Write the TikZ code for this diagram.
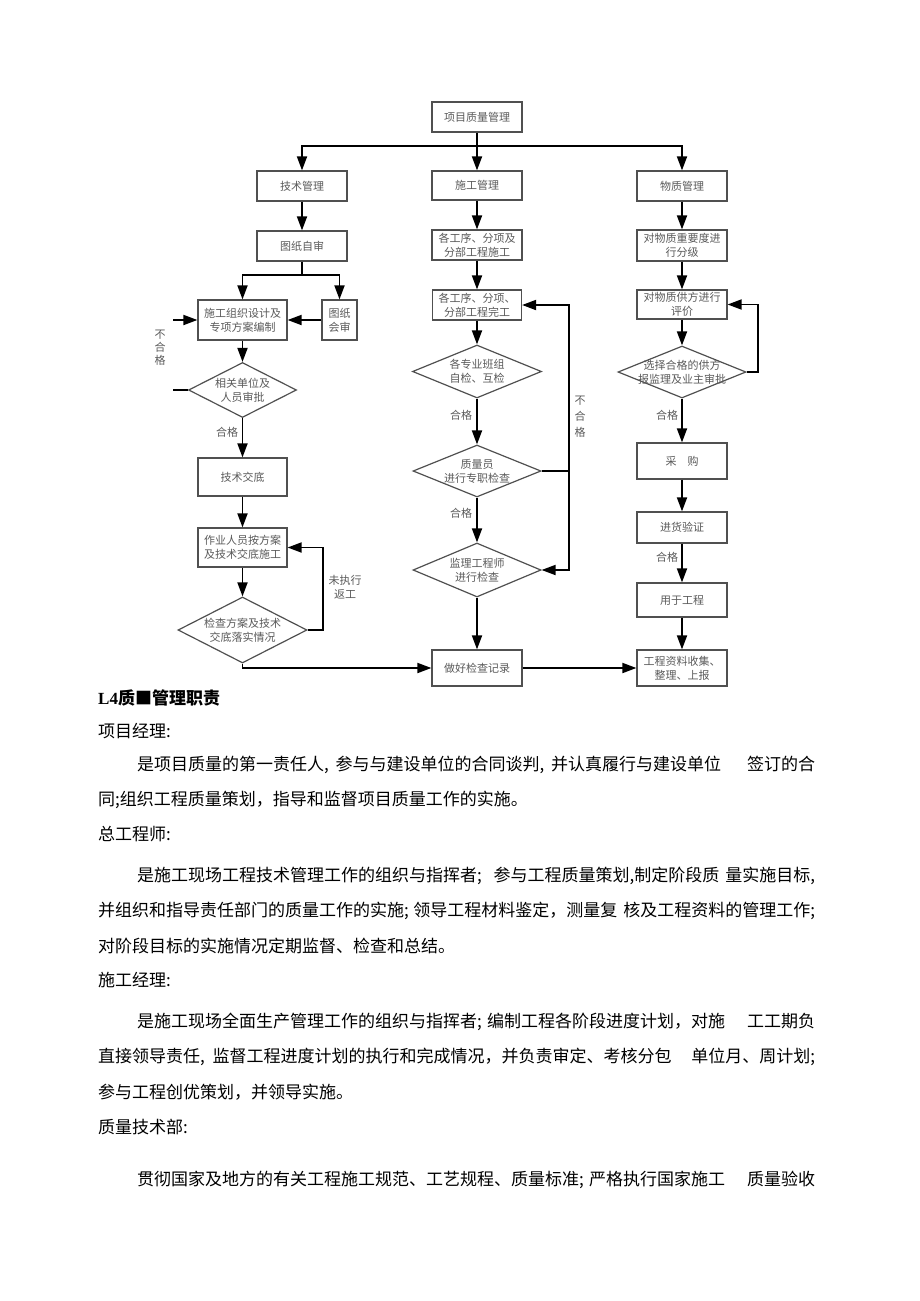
\documentclass[tikz,border=0pt]{standalone}
\usepackage{fontspec}
\usetikzlibrary{arrows.meta,shapes.geometric}
\newfontfamily\cjk{Noto Sans CJK SC}
\newfontfamily\tms{Liberation Serif}
\XeTeXlinebreaklocale "zh"
\XeTeXlinebreakskip=0pt plus 3pt minus 0.5pt
\definecolor{bx}{HTML}{505050}
\definecolor{tx}{HTML}{5A5A5A}
\newcommand\fcfont{\cjk\fontsize{11pt}{14pt}\selectfont}
\newcommand\bdfont{\cjk\fontsize{17pt}{20pt}\selectfont}
\tikzset{
  box/.style={draw=bx, line width=1.2pt, inner sep=0pt, font=\fcfont, text=tx, align=center},
  dia/.style={draw=bx, line width=1.2pt, shape=diamond, inner sep=0pt},
  dtxt/.style={font=\fcfont, text=tx, align=center},
  con/.style={line width=1.8pt, -{Triangle[length=14pt,width=10pt]}},
  ln/.style={line width=1.8pt},
  lbl/.style={font=\fcfont, text=tx, inner sep=0pt, align=center},
  body/.style={anchor=west, inner sep=0pt, font=\bdfont},
}
\begin{document}
\begin{tikzpicture}[x=1pt, y=-1pt]
\useasboundingbox[fill=white] (0,0) rectangle (920,1301);

% ---------- boxes ----------
\node[box, minimum width=90pt, minimum height=30pt] (top) at (477,117) {项目质量管理};
\node[box, minimum width=90pt, minimum height=30pt] (jg) at (302,186) {技术管理};
\node[box, minimum width=90pt, minimum height=29pt] (sg) at (477,185.5) {施工管理};
\node[box, minimum width=90pt, minimum height=30pt] (wz) at (682,186) {物质管理};
\node[box, minimum width=90pt, minimum height=30pt] (tz) at (302,246) {图纸自审};
\node[box, minimum width=90pt, minimum height=30pt] (gx1) at (477,245) {各工序、分项及\\分部工程施工};
\node[box, minimum width=90pt, minimum height=31pt] (fj) at (682,245.5) {对物质重要度进\\行分级};
\node[box, minimum width=89pt, minimum height=40pt] (sgsj) at (242.5,320) {施工组织设计及\\专项方案编制};
\node[box, minimum width=35pt, minimum height=40pt] (hs) at (339.5,320) {图纸\\会审};
\node[box, minimum width=89pt, minimum height=30pt] (gx2) at (477,305) {各工序、分项、\\分部工程完工};
\node[box, minimum width=90pt, minimum height=29pt] (pj) at (682,304.5) {对物质供方进行\\评价};
\node[box, minimum width=89pt, minimum height=38pt] (jsjd) at (242.5,477) {技术交底};
\node[box, minimum width=89pt, minimum height=39pt] (zy) at (242.5,547.5) {作业人员按方案\\及技术交底施工};
\node[box, minimum width=90pt, minimum height=36pt] (cg) at (682,461) {采\hspace{1em}购};
\node[box, minimum width=90pt, minimum height=31pt] (jh) at (682,527.5) {进货验证};
\node[box, minimum width=90pt, minimum height=34pt] (yy) at (682,600) {用于工程};
\node[box, minimum width=90pt, minimum height=36pt] (jl) at (477,668) {做好检查记录};
\node[box, minimum width=90pt, minimum height=36pt] (zl) at (682,668) {工程资料收集、\\整理、上报};

% ---------- diamonds ----------
\node[dia, minimum width=108pt, minimum height=55pt, label={[dtxt]center:{相关单位及\\人员审批}}] (d1) at (242.5,390) {};
\node[dia, minimum width=129pt, minimum height=66pt, label={[dtxt]center:{检查方案及技术\\交底落实情况}}] (d2) at (242.5,630) {};
\node[dia, minimum width=129pt, minimum height=53pt, label={[dtxt]center:{各专业班组\\自检、互检}}] (d3) at (477,371.5) {};
\node[dia, minimum width=128pt, minimum height=52pt, label={[dtxt]center:{质量员\\进行专职检查}}] (d4) at (477,471) {};
\node[dia, minimum width=128pt, minimum height=54pt, label={[dtxt]center:{监理工程师\\进行检查}}] (d5) at (477,570) {};
\node[dia, minimum width=128pt, minimum height=52pt, label={[dtxt]center:{选择合格的供方\\报监理及业主审批}}] (d6) at (682,372) {};

% ---------- helper coordinates ----------
\coordinate (bus) at (477,146);
\coordinate (sp) at (302,275);
\coordinate (lfa) at (173,320);
\coordinate (lfb) at (173,390);
\coordinate (r1) at (569,471);

% ---------- connectors ----------
\draw[con] (top.south) -- (sg.north);
\draw[con] (bus) -| (jg.north);
\draw[con] (bus) -| (wz.north);
\draw[con] (jg.south) -- (tz.north);
\draw[ln] (tz.south) -- (sp);
\draw[con] (sp) -| (sgsj.north);
\draw[con] (sp) -| (hs.north);
\draw[con] (hs.west) -- (sgsj.east);
\draw[con] (lfa) -- (sgsj.west);
\draw[ln] (d1.west) -- (lfb);
\draw[con] (sgsj.south) -- (d1.north);
\draw[con] (d1.south) -- (jsjd.north);
\draw[con] (jsjd.south) -- (zy.north);
\draw[con] (zy.south) -- (d2.north);
\draw[con] (d2.east) -- ++(15,0) |- (zy.east);
\draw[con] (d2.south) |- (jl.west);

\draw[con] (sg.south) -- (gx1.north);
\draw[con] (gx1.south) -- (gx2.north);
\draw[con] (gx2.south) -- (d3.north);
\draw[con] (d3.south) -- (d4.north);
\draw[ln] (d4.east) -- (r1);
\draw[con] (r1) |- (gx2.east);
\draw[con] (r1) |- (d5.east);
\draw[con] (d4.south) -- (d5.north);
\draw[con] (d5.south) -- (jl.north);
\draw[con] (jl.east) -- (zl.west);

\draw[con] (wz.south) -- (fj.north);
\draw[con] (fj.south) -- (pj.north);
\draw[con] (pj.south) -- (d6.north);
\draw[con] (d6.east) -- ++(11,0) |- (pj.east);
\draw[con] (d6.south) -- (cg.north);
\draw[con] (cg.south) -- (jh.north);
\draw[con] (jh.south) -- (yy.north);
\draw[con] (yy.south) -- (zl.north);

% ---------- connector labels ----------
\node[lbl, font=\cjk\fontsize{11pt}{13pt}\selectfont] (n1) at (160,348) {不\\合\\格};
\node[lbl] (h1) at (227,432) {合格};
\node[lbl] (w1) at (345,587) {未执行\\返工};
\node[lbl] (h2) at (461,415) {合格};
\node[lbl] (h3) at (461,513) {合格};
\node[lbl, font=\cjk\fontsize{11pt}{16pt}\selectfont] (n2) at (580,417) {不\\合\\格};
\node[lbl] (h4) at (667,415) {合格};
\node[lbl] (h5) at (667,557) {合格};

% ---------- body text ----------
\node[body] (t0) at (98,698) {\tms\bfseries L4\cjk\bfseries 质■管理职责};
\node[body] (t1) at (98,731) {项目经理:};
\node[body] (t2) at (137,765) {\makebox[678pt][s]{是项目质量的第一责任人, 参与与建设单位的合同谈判, 并认真履行与建设单位\hspace{26pt}签订的合\unskip}};
\node[body] (t3) at (98,800) {同;组织工程质量策划，指导和监督项目质量工作的实施。};
\node[body] (t4) at (98,834) {总工程师:};
\node[body] (t5) at (137,876) {\makebox[678pt][s]{是施工现场工程技术管理工作的组织与指挥者; 参与工程质量策划,制定阶段质\hspace{6pt}量实施目标,\unskip}};
\node[body] (t6) at (98,911) {\makebox[717pt][s]{并组织和指导责任部门的质量工作的实施; 领导工程材料鉴定，测量复\hspace{6pt}核及工程资料的管理工作;\unskip}};
\node[body] (t7) at (98,946) {对阶段目标的实施情况定期监督、检查和总结。};
\node[body] (t8) at (98,980) {施工经理:};
\node[body] (t9) at (137,1022) {\makebox[678pt][s]{是施工现场全面生产管理工作的组织与指挥者; 编制工程各阶段进度计划，对施\hspace{22pt}工工期负\unskip}};
\node[body] (t10) at (98,1057) {\makebox[717pt][s]{直接领导责任, 监督工程进度计划的执行和完成情况，并负责审定、考核分包\hspace{10pt plus 6pt}单位月、周计划;\unskip}};
\node[body] (t11) at (98,1092) {参与工程创优策划，并领导实施。};
\node[body] (t12) at (98,1127) {质量技术部:};
\node[body] (t13) at (137,1180) {\makebox[678pt][s]{贯彻国家及地方的有关工程施工规范、工艺规程、质量标准; 严格执行国家施工\hspace{22pt}质量验收\unskip}};
\end{tikzpicture}
\end{document}
